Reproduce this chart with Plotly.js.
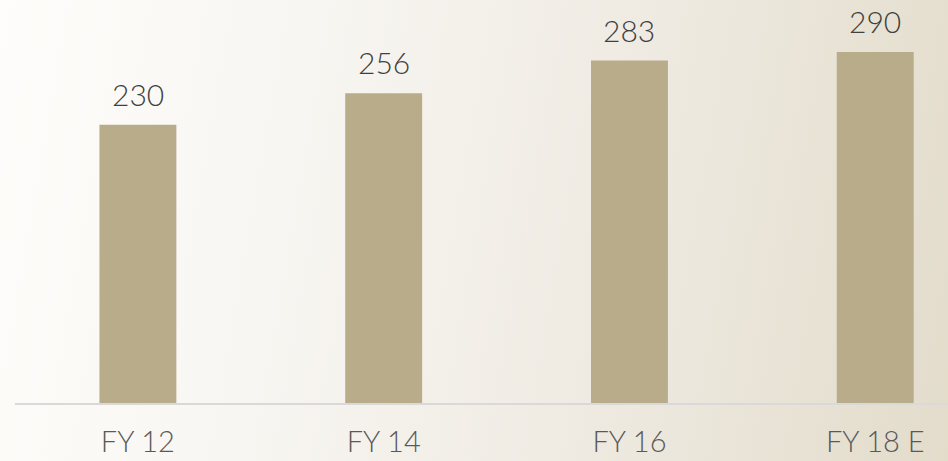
<!DOCTYPE html>
<html>
<head>
<meta charset="utf-8">
<script src="https://cdn.plot.ly/plotly-3.0.1.min.js"></script>
<style>
html, body { margin: 0; padding: 0; }
body { width: 948px; height: 461px; overflow: hidden;
  background: linear-gradient(100deg, #fefdfb 0%, #f8f6f2 30%, #f0ece4 60%, #e3dccb 100%); }
#chart { width: 948px; height: 461px; }
</style>
</head>
<body>
<div id="chart"></div>
<script>
const categories = ["FY 12", "FY 14", "FY 16", "FY 18 E"];
const values = [230, 256, 283, 290];
const valueLabels = ["230", "256", "283", "290"];

const FONT = "Lato, 'DejaVu Sans', sans-serif";

const trace = {
  type: "bar",
  x: categories,
  y: values,
  marker: { color: "#b9ac8b", line: { width: 0 } },
  hoverinfo: "none"
};

const annotations = categories.map((c, i) => ({
  x: c,
  y: values[i],
  xref: "x",
  yref: "y",
  text: valueLabels[i],
  showarrow: false,
  yanchor: "bottom",
  yshift: 11,
  font: { family: FONT, size: 30, weight: 300, color: "#404040" }
}));

const layout = {
  width: 948,
  height: 461,
  margin: { l: 15, r: 0, t: 0, b: 58 },
  paper_bgcolor: "rgba(0,0,0,0)",
  plot_bgcolor: "rgba(0,0,0,0)",
  bargap: 0.687,
  showlegend: false,
  annotations: annotations,
  xaxis: {
    type: "category",
    range: [-0.5, 3.296],
    showgrid: false,
    zeroline: false,
    showline: true,
    linecolor: "#d9d9d9",
    linewidth: 2,
    ticks: "",
    ticklabelstandoff: 12,
    tickfont: { family: FONT, size: 29, weight: 300, color: "#595959" }
  },
  yaxis: {
    range: [0, 333],
    visible: false,
    showgrid: false,
    zeroline: false
  }
};

Plotly.newPlot("chart", [trace], layout, { staticPlot: true, displayModeBar: false });
</script>
</body>
</html>
